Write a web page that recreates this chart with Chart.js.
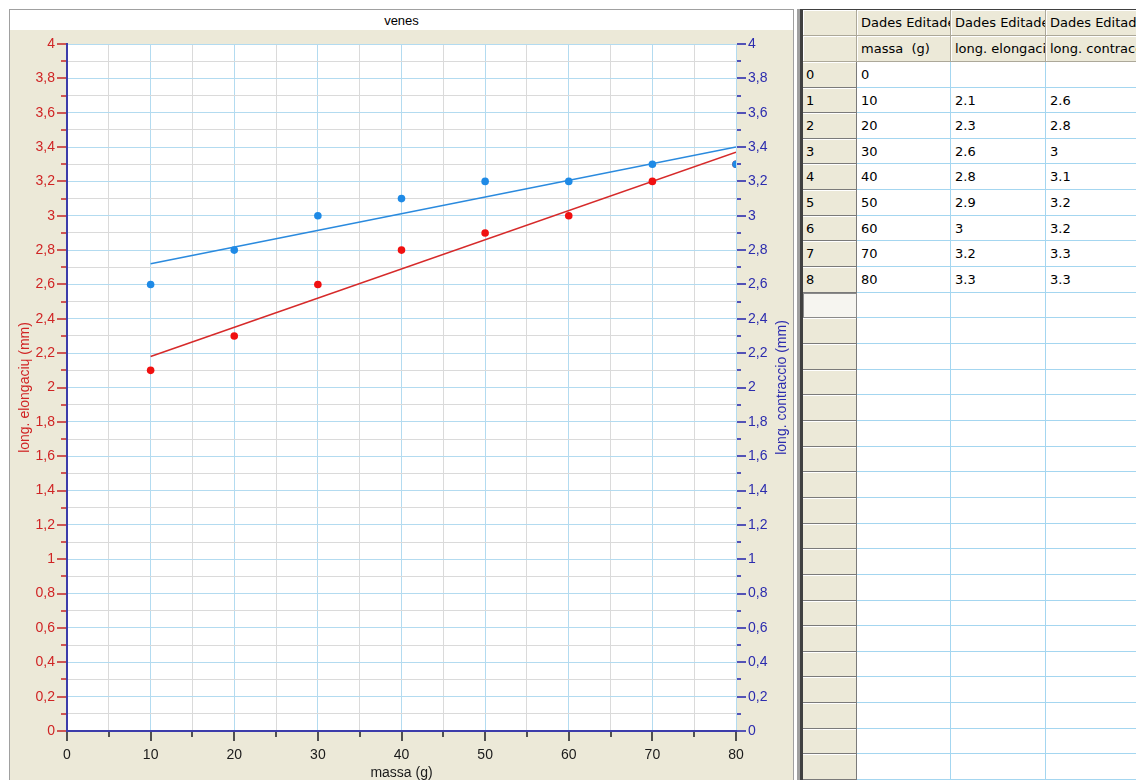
<!DOCTYPE html>
<html>
<head>
<meta charset="utf-8">
<script src="https://cdn.jsdelivr.net/npm/chart.js@4.4.1/dist/chart.umd.min.js"></script>
<style>
html,body{margin:0;padding:0;width:1136px;height:780px;overflow:hidden;background:#fff;font-family:"Liberation Sans",Arial,sans-serif;}
#panel{position:absolute;left:9px;top:9px;width:783px;height:771px;border-left:1px solid #a0a0a0;border-top:1px solid #a0a0a0;border-right:1px solid #a0a0a0;background:#ece9d8;overflow:hidden;}
#titleband{position:absolute;left:0;top:0;width:783px;height:20px;background:#fff;text-align:center;font-size:13px;line-height:21px;color:#000;}
#chartbox{position:absolute;left:0;top:20px;width:783px;height:756px;}
#grid{position:absolute;left:797px;top:9px;width:339px;height:771px;overflow:hidden;background:#ece9d8;}
.bar1{position:absolute;left:0;top:0;width:3px;height:771px;background:#a0a0a0;}
.bar2{position:absolute;left:3px;top:0;width:3px;height:771px;background:#404040;}
.topline{position:absolute;left:0;top:0;width:339px;height:1px;background:#404040;}
.cell{position:absolute;box-sizing:border-box;overflow:hidden;white-space:pre;font-family:"DejaVu Sans",sans-serif;font-size:13px;color:#000;padding-left:4px;display:flex;align-items:center;}
.hdr{background:#ece9d8;border-right:1px solid #aca899;border-bottom:1px solid #aca899;box-shadow:inset 1px 1px 0 #fff;}
.rh{background:#ece9d8;border-right:1px solid #7a7a7a;border-bottom:1px solid #7a7a7a;box-shadow:inset 0 1px 0 #fff;padding-left:3px;}
.rhsel{background:#f6f5f0;border:1px solid #8a8a8a;}
.dc{background:#fff;border-right:1px solid #a4d6f0;border-bottom:1px solid #a4d6f0;}
</style>
</head>
<body>
<div id="panel">
  <div id="titleband"></div>
  <div id="chartbox"><canvas id="c" width="783" height="756"></canvas></div>
</div>
<div id="grid">
  <div class="topline"></div>
  <div class="bar1"></div>
  <div class="bar2"></div>
</div>
<script>
// ---------- data ----------
const chartTitle = 'venes';
const massa = [10, 20, 30, 40, 50, 60, 70, 80];
const elongacio = [2.1, 2.3, 2.6, 2.8, 2.9, 3.0, 3.2, 3.3];
const contraccio = [2.6, 2.8, 3.0, 3.1, 3.2, 3.2, 3.3, 3.3];
// fitted lines, end points
const fitX = [10, 80];
const fitElongacio = [2.18, 3.37];
const fitContraccio = [2.72, 3.40];
const xTickLabels = ['0', '10', '20', '30', '40', '50', '60', '70', '80'];
const yTickLabels = ['0','0,2','0,4','0,6','0,8','1','1,2','1,4','1,6','1,8','2','2,2','2,4','2,6','2,8','3','3,2','3,4','3,6','3,8','4'];
const xTitle = 'massa (g)';
const yTitle = 'long. elongaciɥ (mm)';
const y2Title = 'long. contraccio (mm)';
// table
const headerGroup = ['Dades Editades', 'Dades Editades', 'Dades Editades'];
const headerNames = ['massa  (g)', 'long. elongació (mm)', 'long. contraccio (mm)'];
const tableMassa = [0, ...massa];
const tableElongacio = ['', ...elongacio];
const tableContraccio = ['', ...contraccio];

document.getElementById('titleband').textContent = chartTitle;

// ---------- table ----------
(function buildTable(){
  const g = document.getElementById('grid');
  const colX = [6, 60, 154, 249, 345]; // relative to #grid left (797)
  function cell(cls, x0, x1, y0, y1, txt){
    const d = document.createElement('div');
    d.className = 'cell ' + cls;
    d.style.left = x0 + 'px'; d.style.width = (x1 - x0) + 'px';
    d.style.top = y0 + 'px'; d.style.height = (y1 - y0) + 'px';
    d.textContent = txt;
    g.appendChild(d);
  }
  const hTops = [1, 27, 53];
  for (let r = 0; r < 2; r++) {
    cell('hdr', colX[0], colX[1], hTops[r], hTops[r+1], '');
    for (let c = 0; c < 3; c++) {
      cell('hdr', colX[c+1], colX[c+2], hTops[r], hTops[r+1], r === 0 ? headerGroup[c] : headerNames[c]);
    }
  }
  const rowH = 25.65, base = 52.85;
  for (let i = 0; i < 29; i++) {
    const y0 = Math.round(base + i * rowH), y1 = Math.round(base + (i + 1) * rowH);
    const has = i < tableMassa.length;
    cell(i === tableMassa.length ? 'rhsel' : 'rh', colX[0], colX[1], y0, y1, has ? String(i) : '');
    cell('dc', colX[1], colX[2], y0, y1, has ? String(tableMassa[i]) : '');
    cell('dc', colX[2], colX[3], y0, y1, has ? String(tableElongacio[i]) : '');
    cell('dc', colX[3], colX[4], y0, y1, has ? String(tableContraccio[i]) : '');
  }
})();

// ---------- chart ----------
const FONT = '"Liberation Sans", Arial, sans-serif';
const MAJOR_GRID = '#b3dbf0';
const MINOR_GRID = '#dadada';
const isMajorX = v => Math.round(v) % 10 === 0;
const isMajorY = v => Math.round(v * 10) % 2 === 0;

const plotBg = {
  id: 'plotBg',
  beforeDraw(chart) {
    const {ctx, chartArea: a} = chart;
    ctx.save();
    ctx.fillStyle = '#ffffff';
    ctx.fillRect(a.left, a.top, a.right - a.left, a.bottom - a.top);
    ctx.restore();
  }
};

const tickMarks = {
  id: 'tickMarks',
  afterDraw(chart) {
    const {ctx, chartArea: a, scales} = chart;
    ctx.save();
    ctx.lineWidth = 2;
    ctx.strokeStyle = '#505050';
    scales.x.ticks.forEach(t => {
      const px = Math.round(scales.x.getPixelForValue(t.value));
      ctx.beginPath();
      ctx.moveTo(px, a.bottom + 1);
      ctx.lineTo(px, a.bottom + (isMajorX(t.value) ? 10 : 6));
      ctx.stroke();
    });
    ctx.lineWidth = 1.6;
    ctx.strokeStyle = '#c83232';
    scales.y.ticks.forEach(t => {
      const py = Math.round(scales.y.getPixelForValue(t.value));
      ctx.beginPath();
      ctx.moveTo(a.left - (isMajorY(t.value) ? 10 : 6), py);
      ctx.lineTo(a.left - 1, py);
      ctx.stroke();
    });
    ctx.strokeStyle = '#2c2cae';
    scales.y2.ticks.forEach(t => {
      const py = Math.round(scales.y2.getPixelForValue(t.value));
      ctx.beginPath();
      ctx.moveTo(a.right + 1, py);
      ctx.lineTo(a.right + (isMajorY(t.value) ? 10 : 5), py);
      ctx.stroke();
    });
    // right axis title, read bottom to top
    const s = scales.y2;
    ctx.translate(s.right - 11, (a.top + a.bottom) / 2);
    ctx.rotate(-Math.PI / 2);
    ctx.fillStyle = '#2c2cae';
    ctx.font = '14px ' + FONT;
    ctx.textAlign = 'center';
    ctx.textBaseline = 'middle';
    ctx.fillText(s.options.title.text, 0, 0);
    ctx.restore();
  }
};

new Chart(document.getElementById('c'), {
  type: 'scatter',
  data: {
    datasets: [
      { label: y2Title, data: massa.map((x, i) => ({x, y: contraccio[i]})), yAxisID: 'y2',
        showLine: false, pointRadius: 3.8, pointBackgroundColor: '#1e8ae6', pointBorderWidth: 0, clip: 0 },
      { label: yTitle, data: massa.map((x, i) => ({x, y: elongacio[i]})), yAxisID: 'y',
        showLine: false, pointRadius: 3.8, pointBackgroundColor: '#f01010', pointBorderWidth: 0, clip: 0 },
      { label: 'fit ' + y2Title, data: fitX.map((x, i) => ({x, y: fitContraccio[i]})), yAxisID: 'y2',
        showLine: true, pointRadius: 0, borderColor: '#2a8ade', borderWidth: 1.6, clip: 0 },
      { label: 'fit ' + yTitle, data: fitX.map((x, i) => ({x, y: fitElongacio[i]})), yAxisID: 'y',
        showLine: true, pointRadius: 0, borderColor: '#d62a2a', borderWidth: 1.6, clip: 0 }
    ]
  },
  options: {
    responsive: false,
    animation: false,
    events: [],
    layout: { padding: { left: 0, right: 0, top: 14, bottom: 0 } },
    plugins: { legend: { display: false }, tooltip: { enabled: false }, title: { display: false } },
    scales: {
      x: {
        type: 'linear', position: 'bottom', min: 0, max: 80,
        afterFit: s => { s.height = 55; },
        grid: { color: c => isMajorX(c.tick.value) ? MAJOR_GRID : MINOR_GRID, lineWidth: 1,
                drawTicks: true, tickLength: 10, tickColor: 'rgba(0,0,0,0)' },
        border: { display: true, color: '#3c3caa', width: 2 },
        ticks: { stepSize: 5, autoSkip: false, maxRotation: 0, padding: 6, color: '#1a1a1a',
                 font: { family: FONT, size: 14 },
                 callback: v => isMajorX(v) ? xTickLabels[Math.round(v / 10)] : '' },
        title: { display: true, text: xTitle, color: '#1a1a1a', font: { family: FONT, size: 14 },
                 padding: { top: 0, bottom: 4 } }
      },
      y: {
        type: 'linear', position: 'left', min: 0, max: 4,
        afterFit: s => { s.width = 57; },
        grid: { color: c => isMajorY(c.tick.value) ? MAJOR_GRID : MINOR_GRID, lineWidth: 1,
                drawTicks: true, tickLength: 10, tickColor: 'rgba(0,0,0,0)' },
        border: { display: true, color: '#3c3caa', width: 2 },
        ticks: { stepSize: 0.1, autoSkip: false, padding: 2, color: '#d02424',
                 font: { family: FONT, size: 14 },
                 callback: v => isMajorY(v) ? yTickLabels[Math.round(v * 5)] : '' },
        title: { display: true, text: yTitle, color: '#d02424', font: { family: FONT, size: 14 },
                 padding: { top: 7, bottom: 0 } }
      },
      y2: {
        type: 'linear', position: 'right', min: 0, max: 4,
        afterFit: s => { s.width = 57; },
        grid: { drawOnChartArea: false, drawTicks: true, tickLength: 10, tickColor: 'rgba(0,0,0,0)' },
        border: { display: false },
        ticks: { stepSize: 0.1, autoSkip: false, padding: 2, color: '#2c2cae',
                 font: { family: FONT, size: 14 },
                 callback: v => isMajorY(v) ? yTickLabels[Math.round(v * 5)] : '' },
        title: { display: false, text: y2Title }
      }
    }
  },
  plugins: [plotBg, tickMarks]
});
</script>
</body>
</html>
